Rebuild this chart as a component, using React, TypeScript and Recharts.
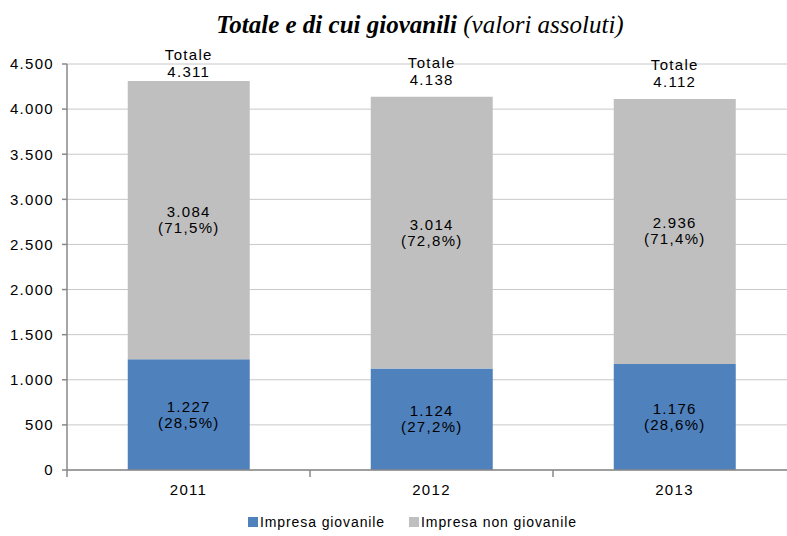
import { BarChart, Bar, XAxis, YAxis, CartesianGrid, LabelList } from 'recharts'

const years = ['2011', '2012', '2013']
const giovanile = [1227, 1124, 1176]
const nonGiovanile = [3084, 3014, 2936]
const pctGiovanile = [28.5, 27.2, 28.6]
const pctNonGiovanile = [71.5, 72.8, 71.4]
const totals = [4311, 4138, 4112]
const yTicks = [0, 500, 1000, 1500, 2000, 2500, 3000, 3500, 4000, 4500]

const BLUE = '#4f81bd'
const GREY = '#bfbfbf'
const AXIS = '#888'
const FONT = "'Liberation Sans', Arial, sans-serif"
const LS = 1.3

const data = years.map((y, i) => ({
  year: y,
  giov: giovanile[i],
  nonGiov: nonGiovanile[i],
}))

const fmt = (n: number) => String(n).replace(/\B(?=(\d{3})+(?!\d))/g, '.')
const fmtPct = (p: number) => '(' + p.toFixed(1).replace('.', ',') + '%)'

const inner = (pcts: number[]) => (p: any) => {
  const x = Number(p.x), y = Number(p.y), w = Number(p.width), h = Number(p.height)
  const cx = x + w / 2, cy = y + h / 2
  return (
    <text x={cx} textAnchor="middle" fontFamily={FONT} fontSize={15} letterSpacing={LS} fill="#000">
      <tspan x={cx} y={cy - 3}>{fmt(Number(p.value))}</tspan>
      <tspan x={cx} y={cy + 13}>{fmtPct(pcts[p.index])}</tspan>
    </text>
  )
}

// Excel pushes the label down when it would leave the plot area
const totalLabel = (p: any) => {
  const x = Number(p.x), y = Number(p.y), w = Number(p.width)
  const cx = x + w / 2
  const y1 = Math.max(y - 29, 60)
  return (
    <text x={cx} textAnchor="middle" fontFamily={FONT} fontSize={15} letterSpacing={LS} fill="#000">
      <tspan x={cx} y={y1}>Totale</tspan>
      <tspan x={cx} y={y1 + 17}>{fmt(totals[p.index])}</tspan>
    </text>
  )
}

// year label plus Excel-style tick marks between the categories
const XTick = (p: any) => {
  const half = Number(p.payload?.offset) || 121.5
  const x = Number(p.x), y = Number(p.y)
  const last = p.index === years.length - 1
  return (
    <g>
      <line x1={x - half} x2={x - half} y1={y} y2={y + 7} stroke={AXIS} strokeWidth={1.5} />
      {last && <line x1={x + half} x2={x + half} y1={y} y2={y + 7} stroke={AXIS} strokeWidth={1.5} />}
      <text x={x} y={y + 25} textAnchor="middle" fontFamily={FONT} fontSize={15} letterSpacing={LS} fill="#000">{p.payload.value}</text>
    </g>
  )
}

export default function App(){
  return (
    <div style={{ position: 'fixed', left: 0, top: 0, width: 787, height: 536, overflow: 'hidden', background: '#fff' }}>
      <div style={{ position: 'absolute', left: 0, width: 840, top: 10, textAlign: 'center', fontFamily: "'Liberation Serif', 'Times New Roman', serif", fontStyle: 'italic', fontSize: 25, lineHeight: '30px' }}>
        <b>Totale e di cui giovanili</b> (valori assoluti)
      </div>
      <div style={{ position: 'absolute', top: 0, left: 0 }}>
        <BarChart width={800} height={536} data={data} margin={{ top: 64, right: 4, left: 0, bottom: 36 }} barCategoryGap="25%">
          <CartesianGrid vertical={false} stroke="#c8c8c8" />
          <XAxis dataKey="year" interval={0} height={30}
            axisLine={{ stroke: AXIS, strokeWidth: 1.5 }} tickLine={false} tickSize={0} tickMargin={0}
            tick={XTick} />
          <YAxis domain={[0, 4500]} ticks={yTicks} width={67} tickSize={5} tickMargin={8} tickFormatter={fmt}
            axisLine={{ stroke: AXIS, strokeWidth: 1.5 }} tickLine={{ stroke: AXIS, strokeWidth: 1.5 }}
            tick={{ fill: '#000', fontSize: 15, fontFamily: FONT, letterSpacing: LS }} />
          <Bar dataKey="giov" stackId="a" fill={BLUE} isAnimationActive={false}>
            <LabelList dataKey="giov" content={inner(pctGiovanile)} />
          </Bar>
          <Bar dataKey="nonGiov" stackId="a" fill={GREY} isAnimationActive={false}>
            <LabelList dataKey="nonGiov" content={inner(pctNonGiovanile)} />
            <LabelList dataKey="nonGiov" content={totalLabel} />
          </Bar>
        </BarChart>
      </div>
      <div style={{ position: 'absolute', top: 514, left: 248, display: 'flex', alignItems: 'center', fontFamily: FONT, fontSize: 14, letterSpacing: 0.9, color: '#000' }}>
        <span style={{ width: 10, height: 10, background: BLUE, marginRight: 2 }} />
        <span>Impresa giovanile</span>
        <span style={{ width: 10, height: 10, background: GREY, marginLeft: 24, marginRight: 2 }} />
        <span>Impresa non giovanile</span>
      </div>
    </div>
  )
}
